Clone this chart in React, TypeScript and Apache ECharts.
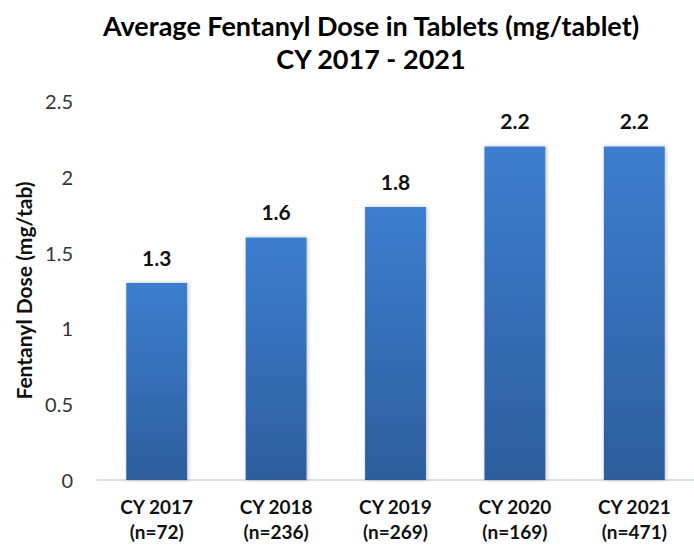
import React, { useEffect, useRef } from "react";
import * as echarts from "echarts";

const categories = ["CY 2017\n(n=72)", "CY 2018\n(n=236)", "CY 2019\n(n=269)", "CY 2020\n(n=169)", "CY 2021\n(n=471)"];
const doseValues = [1.3, 1.6, 1.8, 2.2, 2.2];
const titleText = "Average Fentanyl Dose in Tablets (mg/tablet)\nCY 2017 - 2021";
const yAxisTitle = "Fentanyl Dose (mg/tab)";

const FONT = "Lato, 'Open Sans', sans-serif";

export default function App() {
  const ref = useRef<HTMLDivElement>(null);
  useEffect(() => {
    document.body.style.margin = "0";
    const chart = echarts.init(ref.current!, null, { renderer: "svg" });
    chart.setOption({
      animation: false,
      backgroundColor: "#ffffff",
      title: {
        text: titleText,
        left: 366,
        top: 4,
        textAlign: "center",
        textStyle: { fontFamily: FONT, fontWeight: "bold", fontSize: 27, lineHeight: 33, color: "#000000" },
      },
      grid: { left: 97, right: -4, top: 101, bottom: 68, containLabel: false },
      xAxis: {
        type: "category",
        data: categories,
        axisLine: { show: true, lineStyle: { color: "#d5e0ee", width: 2 } },
        axisTick: { show: false },
        axisLabel: {
          fontFamily: FONT,
          fontWeight: "bold",
          fontSize: 19,
          lineHeight: 25,
          color: "#111111",
          margin: 14,
        },
      },
      yAxis: {
        type: "value",
        min: 0,
        max: 2.5,
        interval: 0.5,
        name: yAxisTitle,
        nameLocation: "middle",
        nameGap: 63,
        nameTextStyle: { fontFamily: FONT, fontWeight: "bold", fontSize: 21, color: "#111111" },
        axisLine: { show: false },
        axisTick: { show: false },
        splitLine: { show: false },
        axisLabel: { fontFamily: FONT, fontSize: 20, color: "#333333", margin: 24 },
      },
      series: [
        {
          type: "bar",
          data: doseValues,
          barWidth: "51%",
          itemStyle: {
            color: new echarts.graphic.LinearGradient(0, 0, 0, 1, [
              { offset: 0, color: "#3c7ecf" },
              { offset: 1, color: "#2d5d9d" },
            ]),
            shadowColor: "rgba(0,0,0,0.25)",
            shadowBlur: 4,
            shadowOffsetX: 1,
          },
          label: {
            show: true,
            position: "top",
            distance: 15,
            fontFamily: FONT,
            fontWeight: "bold",
            fontSize: 21,
            color: "#111111",
          },
        },
      ],
    });
    return () => chart.dispose();
  }, []);
  return <div ref={ref} style={{ position: "absolute", left: 0, top: 0, width: 694, height: 548 }} />;
}
